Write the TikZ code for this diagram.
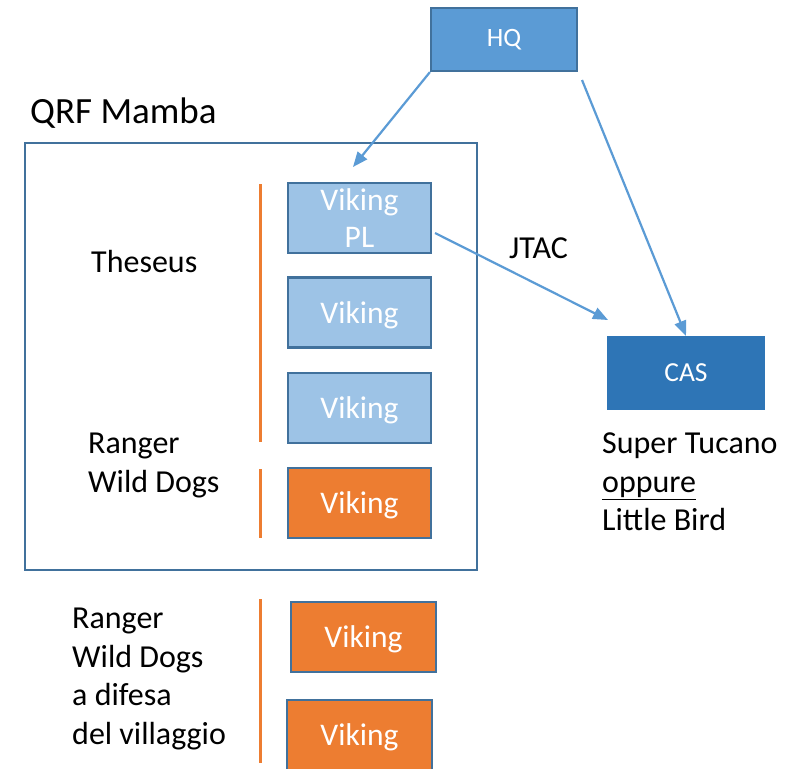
\documentclass[tikz,border=0pt]{standalone}
\usepackage{fontspec}
\setmainfont{Carlito}
\usetikzlibrary{arrows.meta,calc}
\definecolor{hqblue}{HTML}{5B9BD5}
\definecolor{edgeblue}{HTML}{41719C}
\definecolor{lightblue}{HTML}{9DC3E6}
\definecolor{casblue}{HTML}{2E75B6}
\definecolor{orng}{HTML}{ED7D31}
\begin{document}
\begin{tikzpicture}[x=1pt,y=-1pt,
  box/.style={draw=edgeblue,line width=2.2pt,inner sep=0pt,text=white,align=center,
    font=\fontsize{31.5}{37}\selectfont,minimum width=143pt,minimum height=70pt},
  vikblue/.style={box,fill=lightblue},
  vikorange/.style={box,fill=orng},
  single/.style={text depth=0pt},
  lbl/.style={inner sep=0pt,align=left,font=\fontsize{32}{38.5}\selectfont,text=black},
  sep/.style={draw=orng,line width=3pt},
  conn/.style={draw=hqblue,line width=2.2pt,-{Triangle[length=15pt,width=12pt]}}
]
\clip (0,0) rectangle (799,768);
\fill[white] (0,0) rectangle (799,768);

% group frame
\draw[edgeblue,line width=2.2pt] (25,143) rectangle (477,570);
\node[lbl,font=\fontsize{37}{40}\selectfont,anchor=base west] (qrf) at (30,123) {QRF Mamba};

% top boxes
\node[box,fill=hqblue,minimum width=146pt,minimum height=63pt,font=\fontsize{26.5}{30}\selectfont] (hq) at (504,39.5) {HQ};
\node[box,draw=casblue,fill=casblue,minimum width=156pt,minimum height=72pt,font=\fontsize{27.5}{30}\selectfont] (cas) at (686,373) {CAS};

% vikings
\node[vikblue] (pl) at (359.5,218) {Viking\\PL};
\node[vikblue,single] (v2) at (359.5,312.5) {Viking};
\node[vikblue,single] (v3) at (359.5,408) {Viking};
\node[vikorange,single] (v4) at (359.5,503) {Viking};
\node[vikorange,single,minimum width=145pt] (v5) at (363.5,637) {Viking};
\node[vikorange,single,minimum width=145pt] (v6) at (359.5,735) {Viking};

% separators
\draw[sep] (260,184) -- (260,442);
\draw[sep] (260,469) -- (260,538);
\draw[sep] (260,599) -- (260,763);

% labels
\node[lbl,anchor=base west] (theseus) at (91,272) {Theseus};
\node[lbl,anchor=north west,font=\fontsize{32}{39}\selectfont] (ranger1) at (88,433) {Ranger\\Wild Dogs};
\node[lbl,anchor=north west] (ranger2) at (72,608) {Ranger\\Wild Dogs\\a difesa\\del villaggio};
\node[lbl,anchor=north west] (cashint) at (602,433) {Super Tucano\\\underline{oppure}\\Little Bird};
\node[lbl,anchor=base west] (jtac) at (509,258) {JTAC};

% connectors
\coordinate (hqtip) at (353,167);
\coordinate (hqr) at (582,80);
\coordinate (plout) at (435,233);
\coordinate (jtactip) at (608,320);
\draw[conn] (hq.south west) -- (hqtip);
\draw[conn] (hqr) -- (cas.north);
\draw[conn] (plout) -- (jtactip);
\end{tikzpicture}
\end{document}
